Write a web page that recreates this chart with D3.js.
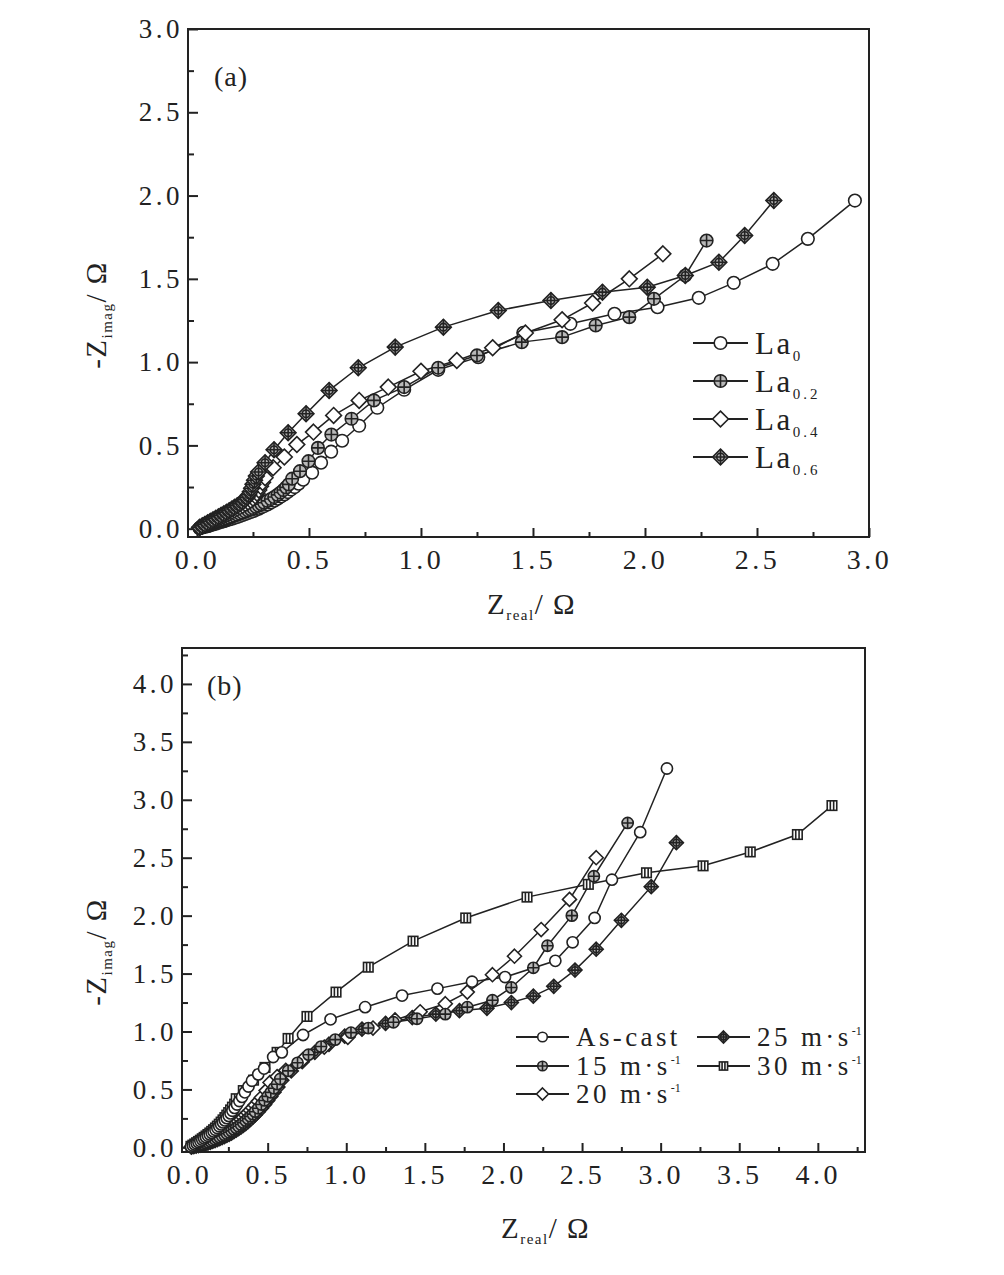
<!DOCTYPE html>
<html><head><meta charset="utf-8">
<script src="https://cdn.jsdelivr.net/npm/d3@7/dist/d3.min.js"></script>
<style>
html,body{margin:0;padding:0;background:#fff;}
svg{display:block;}
text{font-family:"Liberation Serif","Times New Roman",serif;fill:#222;}
</style></head>
<body>
<svg id="chart" width="1004" height="1275"></svg>
<script>
// ---------- Panel (a) data: [Z_real, -Z_imag] in ohm ----------
const seriesNamesA = ["La0", "La0.2", "La0.4", "La0.6"];
const la0 = [[0.012,0.003],[0.024,0.007],[0.036,0.011],[0.048,0.015],[0.06,0.02],[0.072,0.025],[0.084,0.03],[0.096,0.035],[0.108,0.04],[0.12,0.045],[0.132,0.05],[0.144,0.055],[0.156,0.06],[0.168,0.065],[0.18,0.07],[0.192,0.076],[0.204,0.082],[0.216,0.088],[0.228,0.094],[0.24,0.1],[0.252,0.106],[0.264,0.113],[0.276,0.12],[0.288,0.128],[0.30,0.136],[0.315,0.146],[0.33,0.157],[0.345,0.168],[0.36,0.18],[0.375,0.193],[0.39,0.206],[0.405,0.22],[0.42,0.235],[0.436,0.25],[0.454,0.27],[0.474,0.294],[0.514,0.336],[0.554,0.396],[0.599,0.462],[0.648,0.528],[0.724,0.618],[0.805,0.726],[0.925,0.834],[1.077,0.954],[1.256,1.03],[1.457,1.176],[1.667,1.23],[1.864,1.29],[2.056,1.33],[2.24,1.386],[2.396,1.476],[2.57,1.59],[2.727,1.74],[2.937,1.97]];
const la02 = [[0.012,0.004],[0.024,0.009],[0.036,0.014],[0.048,0.019],[0.06,0.025],[0.072,0.031],[0.084,0.037],[0.096,0.043],[0.108,0.049],[0.12,0.055],[0.132,0.061],[0.144,0.067],[0.156,0.073],[0.168,0.079],[0.18,0.085],[0.192,0.091],[0.204,0.097],[0.216,0.103],[0.228,0.11],[0.24,0.117],[0.252,0.124],[0.264,0.131],[0.276,0.139],[0.288,0.147],[0.30,0.156],[0.315,0.167],[0.33,0.178],[0.345,0.19],[0.36,0.203],[0.373,0.217],[0.386,0.232],[0.398,0.248],[0.41,0.266],[0.425,0.30],[0.46,0.345],[0.498,0.405],[0.54,0.485],[0.60,0.565],[0.69,0.66],[0.79,0.77],[0.925,0.85],[1.077,0.966],[1.25,1.04],[1.45,1.12],[1.63,1.15],[1.78,1.22],[1.93,1.27],[2.04,1.38],[2.18,1.52],[2.275,1.73]];
const la04 = [[0.012,0.006],[0.024,0.014],[0.036,0.022],[0.048,0.03],[0.06,0.038],[0.072,0.046],[0.084,0.054],[0.096,0.062],[0.108,0.07],[0.12,0.078],[0.132,0.086],[0.144,0.095],[0.156,0.104],[0.168,0.113],[0.18,0.122],[0.192,0.131],[0.204,0.14],[0.216,0.15],[0.228,0.16],[0.24,0.171],[0.25,0.183],[0.26,0.197],[0.268,0.213],[0.276,0.232],[0.284,0.254],[0.293,0.278],[0.304,0.306],[0.34,0.366],[0.39,0.43],[0.446,0.505],[0.52,0.58],[0.61,0.68],[0.724,0.77],[0.854,0.85],[1.0,0.945],[1.16,1.01],[1.32,1.086],[1.466,1.175],[1.63,1.254],[1.766,1.355],[1.93,1.50],[2.08,1.65]];
const la06 = [[0.012,0.008],[0.024,0.017],[0.036,0.026],[0.048,0.035],[0.06,0.044],[0.072,0.053],[0.084,0.062],[0.096,0.071],[0.108,0.08],[0.12,0.089],[0.132,0.098],[0.144,0.108],[0.156,0.118],[0.168,0.128],[0.18,0.138],[0.192,0.149],[0.204,0.161],[0.214,0.174],[0.223,0.188],[0.231,0.204],[0.238,0.222],[0.244,0.243],[0.25,0.266],[0.257,0.291],[0.265,0.316],[0.275,0.34],[0.304,0.396],[0.344,0.474],[0.407,0.576],[0.487,0.69],[0.59,0.83],[0.72,0.966],[0.885,1.09],[1.10,1.21],[1.345,1.31],[1.58,1.37],[1.81,1.42],[2.01,1.45],[2.18,1.52],[2.33,1.60],[2.445,1.76],[2.575,1.97]];
const xTicksA = [0,0.5,1.0,1.5,2.0,2.5,3.0];
const yTicksA = [0,0.5,1.0,1.5,2.0,2.5,3.0];

// ---------- Panel (b) data ----------
const seriesNamesB = ["As-cast", "15 m·s", "20 m·s", "25 m·s", "30 m·s"];
const asCast = [[0.012,0.007],[0.024,0.016],[0.036,0.025],[0.048,0.035],[0.06,0.045],[0.072,0.055],[0.084,0.066],[0.096,0.077],[0.108,0.088],[0.12,0.1],[0.132,0.112],[0.144,0.125],[0.156,0.138],[0.168,0.152],[0.18,0.167],[0.192,0.182],[0.204,0.198],[0.216,0.215],[0.228,0.233],[0.24,0.252],[0.252,0.272],[0.264,0.293],[0.276,0.316],[0.29,0.34],[0.305,0.37],[0.32,0.40],[0.337,0.435],[0.355,0.475],[0.378,0.525],[0.40,0.575],[0.44,0.63],[0.477,0.68],[0.535,0.78],[0.59,0.82],[0.725,0.97],[0.90,1.105],[1.12,1.21],[1.355,1.31],[1.58,1.37],[1.80,1.43],[2.01,1.47],[2.33,1.61],[2.44,1.77],[2.58,1.98],[2.69,2.31],[2.87,2.72],[3.04,3.27]];
const ms15 = [[0.015,0.003],[0.03,0.008],[0.045,0.013],[0.06,0.019],[0.075,0.025],[0.09,0.031],[0.105,0.038],[0.12,0.045],[0.135,0.053],[0.15,0.061],[0.165,0.07],[0.18,0.079],[0.195,0.088],[0.21,0.098],[0.225,0.108],[0.24,0.119],[0.255,0.13],[0.27,0.142],[0.285,0.155],[0.30,0.168],[0.315,0.182],[0.33,0.197],[0.345,0.213],[0.36,0.23],[0.375,0.248],[0.39,0.267],[0.405,0.287],[0.42,0.308],[0.44,0.337],[0.46,0.37],[0.48,0.405],[0.50,0.44],[0.52,0.475],[0.54,0.51],[0.56,0.545],[0.58,0.59],[0.63,0.66],[0.69,0.73],[0.76,0.80],[0.84,0.87],[0.93,0.93],[1.03,0.99],[1.14,1.03],[1.30,1.08],[1.45,1.11],[1.63,1.15],[1.77,1.21],[1.93,1.27],[2.05,1.38],[2.19,1.55],[2.28,1.74],[2.435,2.00],[2.575,2.34],[2.79,2.80]];
const ms20 = [[0.015,0.006],[0.03,0.013],[0.045,0.02],[0.06,0.028],[0.075,0.036],[0.09,0.044],[0.105,0.053],[0.12,0.062],[0.135,0.072],[0.15,0.082],[0.165,0.093],[0.18,0.104],[0.195,0.115],[0.21,0.127],[0.225,0.139],[0.24,0.152],[0.255,0.165],[0.27,0.179],[0.285,0.194],[0.30,0.209],[0.315,0.225],[0.33,0.242],[0.345,0.26],[0.36,0.279],[0.375,0.299],[0.39,0.32],[0.405,0.342],[0.42,0.365],[0.44,0.397],[0.46,0.43],[0.49,0.49],[0.515,0.56],[0.56,0.61],[0.615,0.665],[0.725,0.76],[0.86,0.865],[1.01,0.95],[1.17,1.03],[1.31,1.10],[1.47,1.17],[1.63,1.24],[1.77,1.34],[1.93,1.49],[2.07,1.65],[2.24,1.88],[2.42,2.14],[2.59,2.50]];
const ms25 = [[0.015,0.002],[0.03,0.006],[0.045,0.01],[0.06,0.015],[0.075,0.02],[0.09,0.025],[0.105,0.031],[0.12,0.037],[0.135,0.044],[0.15,0.051],[0.165,0.059],[0.18,0.067],[0.195,0.075],[0.21,0.084],[0.225,0.093],[0.24,0.103],[0.255,0.113],[0.27,0.124],[0.285,0.136],[0.30,0.148],[0.315,0.161],[0.33,0.175],[0.345,0.19],[0.36,0.206],[0.375,0.223],[0.39,0.241],[0.405,0.26],[0.42,0.28],[0.44,0.308],[0.46,0.338],[0.48,0.37],[0.50,0.404],[0.52,0.44],[0.54,0.476],[0.565,0.52],[0.59,0.58],[0.65,0.66],[0.72,0.74],[0.80,0.82],[0.89,0.89],[0.99,0.96],[1.10,1.02],[1.25,1.07],[1.42,1.12],[1.57,1.15],[1.72,1.18],[1.895,1.20],[2.05,1.25],[2.19,1.305],[2.32,1.39],[2.455,1.53],[2.59,1.71],[2.75,1.96],[2.94,2.25],[3.10,2.63]];
const ms30 = [[0.012,0.009],[0.024,0.019],[0.036,0.029],[0.048,0.04],[0.06,0.051],[0.072,0.062],[0.084,0.074],[0.096,0.086],[0.108,0.098],[0.12,0.111],[0.132,0.124],[0.144,0.138],[0.156,0.152],[0.168,0.167],[0.18,0.183],[0.192,0.2],[0.204,0.218],[0.216,0.237],[0.228,0.257],[0.24,0.278],[0.252,0.3],[0.264,0.323],[0.276,0.347],[0.29,0.373],[0.30,0.42],[0.345,0.49],[0.41,0.58],[0.483,0.69],[0.56,0.82],[0.63,0.94],[0.75,1.13],[0.935,1.34],[1.14,1.555],[1.425,1.78],[1.76,1.98],[2.15,2.16],[2.54,2.27],[2.91,2.37],[3.27,2.43],[3.57,2.55],[3.87,2.70],[4.09,2.95]];
const xTicksB = [0,0.5,1.0,1.5,2.0,2.5,3.0,3.5,4.0];
const yTicksB = [0,0.5,1.0,1.5,2.0,2.5,3.0,3.5,4.0];

// ---------- drawing ----------
const svg = d3.select("#chart");
svg.append("rect").attr("width",1004).attr("height",1275).attr("fill","#ffffff");
const INK = "#222";
const fmt = d3.format(".1f");
const SERIF = '"Liberation Serif","Times New Roman",serif';

function marker(g, type, x, y, s) {
  const m = g.append("g").attr("transform", `translate(${x},${y})`)
    .attr("stroke", INK).attr("stroke-width", 1.6).attr("fill", "#fff");
  const r = s;
  if (type === "circle") {
    m.append("circle").attr("r", r);
  } else if (type === "circlePlus") {
    m.append("circle").attr("r", r).attr("fill", "#b8b8b8");
    m.append("path").attr("d", `M${-r},0H${r}M0,${-r}V${r}`);
  } else if (type === "diamond") {
    const d = r * 1.25;
    m.append("path").attr("d", `M0,${-d}L${d},0L0,${d}L${-d},0Z`);
  } else if (type === "diamondPlus") {
    const d = r * 1.25;
    m.append("path").attr("d", `M0,${-d}L${d},0L0,${d}L${-d},0Z`).attr("fill", "#b0b0b0");
    m.append("circle").attr("r", r * 0.6).attr("fill", "none");
    m.append("path").attr("d", `M${-d},0H${d}M0,${-d}V${d}`);
  } else if (type === "squareBars") {
    const h = r * 0.85;
    m.append("rect").attr("x", -h).attr("y", -h).attr("width", 2 * h).attr("height", 2 * h);
    m.append("path").attr("d", `M${-h*0.35},${-h}V${h}M${h*0.35},${-h}V${h}`);
  }
}

function panel(cfg) {
  const g = svg.append("g");
  const x = d3.scaleLinear().domain(cfg.xDom).range([cfg.left, cfg.right]);
  const y = d3.scaleLinear().domain(cfg.yDom).range([cfg.bottom, cfg.top]);

  g.append("rect").attr("x", cfg.left).attr("y", cfg.top)
    .attr("width", cfg.right - cfg.left).attr("height", cfg.bottom - cfg.top)
    .attr("fill", "none").attr("stroke", INK).attr("stroke-width", 2);

  const xa = g.append("g").attr("transform", `translate(0,${cfg.bottom})`)
    .call(d3.axisBottom(x).tickValues(cfg.xTicks).tickFormat(fmt).tickSizeInner(-9).tickSizeOuter(0).tickPadding(12));
  xa.select(".domain").remove();
  xa.selectAll("line").attr("stroke", INK).attr("stroke-width", 2);
  xa.selectAll("text").attr("font-size", 28).attr("letter-spacing", 3.5).attr("fill", INK).attr("font-family", SERIF);
  const xm = g.append("g").attr("transform", `translate(0,${cfg.bottom})`)
    .call(d3.axisBottom(x).tickValues(cfg.xMinor).tickFormat("").tickSizeInner(-5).tickSizeOuter(0));
  xm.select(".domain").remove();
  xm.selectAll("line").attr("stroke", INK).attr("stroke-width", 2);

  const ya = g.append("g").attr("transform", `translate(${cfg.left},0)`)
    .call(d3.axisLeft(y).tickValues(cfg.yTicks).tickFormat(fmt).tickSizeInner(-10).tickSizeOuter(0).tickPadding(5));
  ya.select(".domain").remove();
  ya.selectAll("line").attr("stroke", INK).attr("stroke-width", 2);
  ya.selectAll("text").attr("font-size", 27).attr("letter-spacing", 3.5).attr("fill", INK).attr("font-family", SERIF);
  const ym = g.append("g").attr("transform", `translate(${cfg.left},0)`)
    .call(d3.axisLeft(y).tickValues(cfg.yMinor).tickFormat("").tickSizeInner(-6).tickSizeOuter(0));
  ym.select(".domain").remove();
  ym.selectAll("line").attr("stroke", INK).attr("stroke-width", 2);

  const line = d3.line().x(d => x(d[0])).y(d => y(d[1]));
  cfg.series.forEach(s => {
    g.append("path").datum(s.data).attr("d", line)
      .attr("fill", "none").attr("stroke", INK).attr("stroke-width", 1.5);
  });
  cfg.series.forEach(s => {
    s.data.forEach(d => marker(g, s.type, x(d[0]), y(d[1]), cfg.ms));
  });

  g.append("text").attr("x", cfg.lblX).attr("y", cfg.lblY).attr("font-size", 28)
    .attr("letter-spacing", 1).text(cfg.label);

  const xt = g.append("text").attr("x", cfg.xtX).attr("y", cfg.xtY).attr("font-size", 29).attr("letter-spacing", 1.5);
  xt.append("tspan").text("Z");
  xt.append("tspan").attr("font-size", 15).attr("dy", 6).text("real");
  xt.append("tspan").attr("dy", -6).text("/ Ω");

  const yt = g.append("text").attr("transform", `translate(${cfg.ytX},${cfg.ytY}) rotate(-90)`)
    .attr("text-anchor", "middle").attr("font-size", 29).attr("letter-spacing", 1.5);
  yt.append("tspan").text("-Z");
  yt.append("tspan").attr("font-size", 15).attr("dy", 6).text("imag");
  yt.append("tspan").attr("dy", -6).text("/ Ω");
  return g;
}

const minor = (a, b) => d3.range(a, b + 0.001, 0.5);

panel({
  left: 188, right: 869, top: 29, bottom: 537,
  xDom: [-0.04, 3.0], yDom: [-0.05, 3.0],
  xTicks: xTicksA, yTicks: yTicksA,
  xMinor: minor(0.25, 2.75), yMinor: minor(0.25, 2.75),
  ms: 6.3,
  series: [
    {data: la0, type: "circle"},
    {data: la02, type: "circlePlus"},
    {data: la04, type: "diamond"},
    {data: la06, type: "diamondPlus"}
  ],
  label: "(a)", lblX: 214, lblY: 86,
  xtX: 487, xtY: 614, ytX: 106, ytY: 315
});

panel({
  left: 182, right: 865, top: 648, bottom: 1152,
  xDom: [-0.045, 4.3], yDom: [-0.04, 4.31],
  xTicks: xTicksB, yTicks: yTicksB,
  xMinor: minor(0.25, 4.25), yMinor: minor(0.25, 4.25),
  ms: 5.6,
  series: [
    {data: ms30, type: "squareBars"},
    {data: ms25, type: "diamondPlus"},
    {data: ms20, type: "diamond"},
    {data: ms15, type: "circlePlus"},
    {data: asCast, type: "circle"}
  ],
  label: "(b)", lblX: 207, lblY: 695,
  xtX: 501, xtY: 1238, ytX: 106, ytY: 952
});

// ---------- legends ----------
function legendItem(g, type, x0, y0, lineLen, ms, main, sub, sup, fs, ls) {
  g.append("path").attr("d", `M${x0},${y0}H${x0 + lineLen}`).attr("stroke", INK).attr("stroke-width", 1.8);
  marker(g, type, x0 + lineLen / 2, y0, ms);
  const t = g.append("text").attr("x", x0 + lineLen + 7).attr("y", y0 + fs * 0.34)
    .attr("font-size", fs).attr("letter-spacing", ls);
  t.append("tspan").text(main);
  if (sub) t.append("tspan").attr("font-size", 15).attr("dy", 7).attr("letter-spacing", 3).text(sub);
  if (sup) t.append("tspan").attr("font-size", 12).attr("dy", -11).attr("letter-spacing", 0).text(sup);
}
const legA = svg.append("g");
const subsA = ["0", "0.2", "0.4", "0.6"];
const typesA = ["circle", "circlePlus", "diamond", "diamondPlus"];
[343, 381, 419, 457].forEach((yy, i) => legendItem(legA, typesA[i], 693, yy, 55, 6.3, "La", subsA[i], null, 31, 2.5));

const legB = svg.append("g");
legendItem(legB, "circle", 516, 1037, 53, 4.8, "As-cast", null, null, 27, 3.4);
legendItem(legB, "circlePlus", 516, 1066, 53, 4.8, "15 m·s", null, "-1", 27, 3.4);
legendItem(legB, "diamond", 516, 1094, 53, 4.8, "20 m·s", null, "-1", 27, 3.4);
legendItem(legB, "diamondPlus", 697, 1037, 53, 4.8, "25 m·s", null, "-1", 27, 3.4);
legendItem(legB, "squareBars", 697, 1066, 53, 4.8, "30 m·s", null, "-1", 27, 3.4);
</script>
</body></html>
